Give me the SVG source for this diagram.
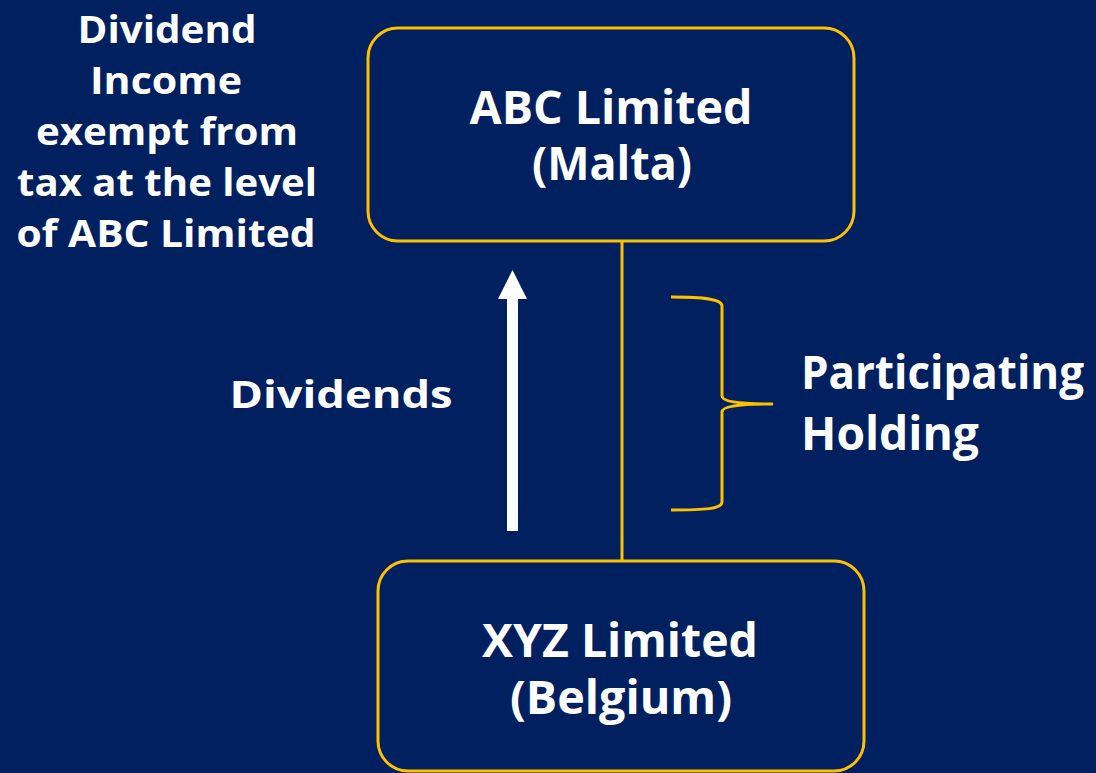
<svg xmlns="http://www.w3.org/2000/svg" width="1096" height="773" viewBox="0 0 1096 773">
<style>
.box{fill:#002060;stroke:#FFC000;stroke-width:3}
.t{font-family:"Open Sans","Noto Sans","Liberation Sans",sans-serif;font-weight:700;fill:#FFFFFF;text-anchor:middle}
.big{font-size:47px}
.mid{font-size:38px}
.ln{fill:none;stroke:#FFC000;stroke-width:3}
</style>
<rect x="0" y="0" width="1096" height="773" fill="#002060"/>
<g id="connectors">
<line class="ln" x1="622" y1="241" x2="622" y2="561"/>
<g id="dividend-arrow">
<rect x="507" y="298" width="11" height="233" fill="#FFFFFF"/>
<polygon points="498,299 527,299 512.5,270" fill="#FFFFFF"/>
</g>
<path id="brace" class="ln" d="M671,297 C705,297 722,299 722,306 L722,396 C722,401 735,404 773,404 M773,404 C735,404 722,407 722,412 L722,502 C722,509 705,510 671,510"/>
</g>
<g id="abc">
<rect class="box" x="368" y="28" width="486" height="213" rx="30"/>
<text class="t big" x="611" y="124" textLength="283" lengthAdjust="spacingAndGlyphs">ABC Limited</text>
<text class="t big" x="612" y="180" textLength="160" lengthAdjust="spacingAndGlyphs">(Malta)</text>
</g>
<g id="xyz">
<rect class="box" x="378" y="561" width="486" height="210" rx="30"/>
<text class="t big" x="620" y="657" textLength="276" lengthAdjust="spacingAndGlyphs">XYZ Limited</text>
<text class="t big" x="621" y="714" textLength="222" lengthAdjust="spacingAndGlyphs">(Belgium)</text>
</g>
<g id="exempt-note">
<text class="t mid" x="167" y="43" textLength="179" lengthAdjust="spacingAndGlyphs">Dividend</text>
<text class="t mid" x="166" y="94" textLength="152" lengthAdjust="spacingAndGlyphs">Income</text>
<text class="t mid" x="167" y="145" textLength="262" lengthAdjust="spacingAndGlyphs">exempt from</text>
<text class="t mid" x="167" y="196" textLength="300" lengthAdjust="spacingAndGlyphs">tax at the level</text>
<text class="t mid" x="166" y="247" textLength="299" lengthAdjust="spacingAndGlyphs">of ABC Limited</text>
</g>
<g id="dividends-label">
<text class="t mid" x="341" y="408" textLength="223" lengthAdjust="spacingAndGlyphs">Dividends</text>
</g>
<g id="holding-label">
<text class="t big" x="801" y="389" style="text-anchor:start" textLength="283" lengthAdjust="spacingAndGlyphs">Participating</text>
<text class="t big" x="801" y="450" style="text-anchor:start" textLength="178" lengthAdjust="spacingAndGlyphs">Holding</text>
</g>
</svg>
